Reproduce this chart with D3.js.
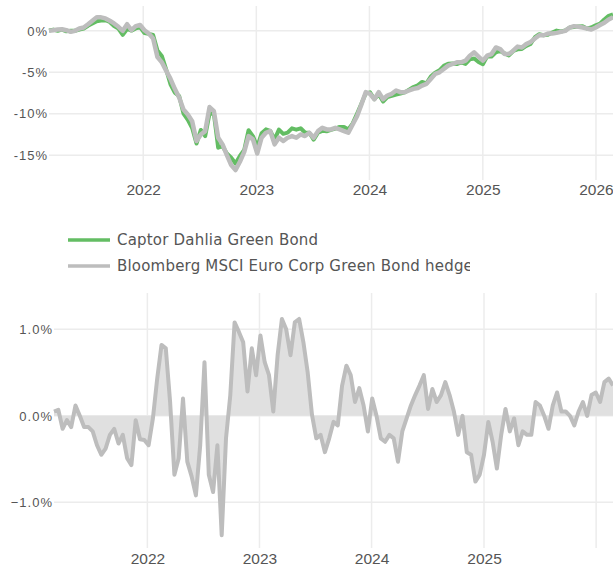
<!DOCTYPE html>
<html>
<head>
<meta charset="utf-8">
<script src="https://cdn.jsdelivr.net/npm/d3@7"></script>
<style>
  body { margin: 0; background: #fff; overflow: hidden; }
  svg { display: block; font-family: "DejaVu Sans", sans-serif; }
</style>
</head>
<body>
<div id="chart"></div>
<script>
// biweekly observations, first one 2021-03-03
var startDate = new Date(2021, 2, 3);
var stepDays = 14;

// cumulative return, %
var fundValues = [
  0.05, 0.15, 0.01, 0.15, -0.05, 0.0, 0.0, 0.15, 0.27, 0.62,
  0.88, 1.17, 1.24, 1.28, 1.07, 0.58, 0.27, -0.49, 0.23, 0.03,
  0.3, 0.42, -0.26, -0.36, -0.5, -2.38, -3.03, -4.65, -6.44, -7.46,
  -7.87, -9.98, -10.73, -11.72, -13.6, -11.96, -12.7, -10.0, -10.0, -14.1,
  -13.92, -14.8, -15.3, -16.0, -15.1, -14.36, -12.0, -12.7, -14.0, -12.36,
  -11.89, -12.06, -13.1, -11.92, -12.43, -12.29, -11.76, -11.92, -11.76, -12.26,
  -12.29, -13.13, -12.29, -12.07, -12.13, -11.96, -11.8, -11.59, -11.59, -11.89,
  -11.16, -10.01, -8.79, -7.57, -7.42, -8.25, -7.64, -8.53, -8.0, -7.84,
  -7.69, -7.57, -7.43, -7.09, -6.78, -6.57, -6.16, -6.33, -5.51, -5.05,
  -4.77, -4.23, -3.97, -3.95, -4.01, -3.8, -4.0, -3.44, -3.34, -3.76,
  -4.03, -3.07, -3.09, -2.6, -2.42, -2.72, -2.97, -2.43, -2.23, -2.18,
  -1.82, -1.57, -0.77, -0.41, -0.53, -0.48, -0.21, 0.03, -0.07, 0.05,
  0.4, 0.46, 0.54, 0.56, 0.28, 0.4, 0.67, 0.86, 1.37, 1.81,
  1.98
];
var benchValues = [
  0.0, 0.08, 0.16, 0.2, 0.08, -0.12, 0.0, 0.28, 0.4, 0.8,
  1.22, 1.63, 1.63, 1.5, 1.22, 0.9, 0.49, 0.0, 0.8, 0.08,
  0.57, 0.7, 0.08, -0.33, -0.93, -3.17, -3.78, -4.8, -5.8, -7.0,
  -8.05, -9.5, -10.1, -10.9, -13.3, -12.5, -12.1, -9.2, -9.7, -12.9,
  -13.7, -15.0, -16.2, -16.8, -15.8, -14.6, -12.7, -13.1, -14.8, -12.9,
  -12.3, -12.1, -13.7, -12.9, -13.3, -12.9, -12.7, -12.9, -12.5, -12.7,
  -12.3, -12.9, -12.1, -11.7, -11.9, -11.9, -11.7, -11.9, -12.1, -12.3,
  -11.3, -10.3, -8.9, -7.4, -7.6, -8.25, -7.4, -8.25, -7.8, -7.6,
  -7.2, -7.4, -7.4, -7.2, -7.0, -6.9, -6.6, -6.4, -5.8, -5.2,
  -5.0, -4.6, -4.2, -4.0, -3.8, -3.8, -3.6, -3.0, -2.6, -3.1,
  -3.6, -3.0, -2.8, -2.0, -2.2, -2.8, -2.8, -2.4, -1.9, -2.0,
  -1.6, -1.35, -0.93, -0.53, -0.53, -0.33, -0.33, -0.24, -0.12, 0.0,
  0.4, 0.57, 0.49, 0.4, 0.28, 0.16, 0.4, 0.7, 0.98, 1.38,
  1.63
];
// relative performance fund vs benchmark, %
var relValues = [
  0.05, 0.07, -0.15, -0.05, -0.13, 0.12, 0.0, -0.13, -0.13, -0.18,
  -0.34, -0.45, -0.38, -0.22, -0.15, -0.32, -0.22, -0.49, -0.57, -0.05,
  -0.27, -0.28, -0.34, -0.03, 0.43, 0.82, 0.78, 0.16, -0.68, -0.49,
  0.2, -0.53, -0.7, -0.92, -0.34, 0.62, -0.68, -0.88, -0.34, -1.38,
  -0.26, 0.24, 1.08, 0.97, 0.85, 0.28, 0.78, 0.47, 0.93, 0.62,
  0.47, 0.05, 0.7, 1.12, 1.0, 0.7, 1.08, 1.12, 0.85, 0.5,
  0.01, -0.26, -0.22, -0.42, -0.26, -0.07, -0.11, 0.35, 0.58, 0.47,
  0.16, 0.32, 0.12, -0.18, 0.2, 0.0, -0.26, -0.3, -0.22, -0.26,
  -0.53, -0.18, -0.03, 0.12, 0.24, 0.35, 0.47, 0.08, 0.31, 0.16,
  0.24, 0.39, 0.24, 0.05, -0.22, 0.0, -0.42, -0.45, -0.76, -0.68,
  -0.45, -0.07, -0.3, -0.61, -0.22, 0.08, -0.18, -0.03, -0.34, -0.18,
  -0.22, -0.22, 0.16, 0.12, 0.0, -0.15, 0.12, 0.27, 0.05, 0.05,
  0.0, -0.11, 0.05, 0.16, 0.0, 0.24, 0.27, 0.16, 0.39, 0.43,
  0.35
];

var seriesNames = ["Captor Dahlia Green Bond", "Bloomberg MSCI Euro Corp Green Bond hedge"];
var seriesColors = ["#63bd63", "#bdbdbd"];
var yearTicks = [2022, 2023, 2024, 2025, 2026];
var relYearLabels = [2022, 2023, 2024, 2025];
var topYTicks = [0, -5, -10, -15];
var bottomYTicks = [1, 0, -1];

var dates = fundValues.map(function(v, i) {
  return d3.timeDay.offset(startDate, i * stepDays);
});
var data = dates.map(function(d, i) {
  return { date: d, fund: fundValues[i], bench: benchValues[i], rel: relValues[i] };
});
var tickDates = yearTicks.map(function(y) { return new Date(y, 0, 1); });

var width = 613, height = 568;
var textColor = "#555555";
var gridColor = "#ececec";

var svg = d3.select("#chart")
  .append("svg")
  .attr("width", width)
  .attr("height", height);

function styleXLabels(sel) {
  sel.attr("fill", textColor)
    .style("font-size", "15.5px");
}
function styleYLabels(sel) {
  sel.attr("fill", textColor)
    .style("font-size", "13px")
    .style("letter-spacing", "1px");
}

// ---------- top panel: cumulative performance ----------
var xTop = d3.scaleTime()
  .domain(d3.extent(dates))
  .range([49, 613]);
var yTop = d3.scaleLinear()
  .domain([-18, 3])
  .range([180, 6]);

var topPanel = svg.append("g").attr("class", "top");

topPanel.append("g")
  .selectAll("line")
  .data(topYTicks)
  .enter()
  .append("line")
  .attr("x1", 49).attr("x2", width)
  .attr("y1", function(d) { return yTop(d); })
  .attr("y2", function(d) { return yTop(d); })
  .attr("stroke", gridColor)
  .attr("stroke-width", 1.5);

topPanel.append("g")
  .selectAll("line")
  .data(tickDates)
  .enter()
  .append("line")
  .attr("x1", function(d) { return xTop(d); })
  .attr("x2", function(d) { return xTop(d); })
  .attr("y1", 6).attr("y2", 180)
  .attr("stroke", gridColor)
  .attr("stroke-width", 1.5);

var xAxisTop = d3.axisBottom(xTop)
  .tickValues(tickDates)
  .tickFormat(d3.timeFormat("%Y"))
  .tickSize(0)
  .tickPadding(4);

topPanel.append("g")
  .attr("transform", "translate(0,180)")
  .call(xAxisTop)
  .call(function(g) { g.select(".domain").remove(); })
  .selectAll("text")
  .call(styleXLabels);

var yAxisTop = d3.axisLeft(yTop)
  .tickValues(topYTicks)
  .tickFormat(function(d) { return d + "%"; })
  .tickSize(0)
  .tickPadding(0);

topPanel.append("g")
  .attr("transform", "translate(48,0)")
  .call(yAxisTop)
  .call(function(g) { g.select(".domain").remove(); })
  .selectAll("text")
  .call(styleYLabels);

var fundLine = d3.line()
  .x(function(d) { return xTop(d.date); })
  .y(function(d) { return yTop(d.fund); });
var benchLine = d3.line()
  .x(function(d) { return xTop(d.date); })
  .y(function(d) { return yTop(d.bench); });

topPanel.append("path")
  .datum(data)
  .attr("d", fundLine)
  .attr("fill", "none")
  .attr("stroke", seriesColors[0])
  .attr("stroke-width", 4)
  .attr("stroke-linejoin", "round");

topPanel.append("path")
  .datum(data)
  .attr("d", benchLine)
  .attr("fill", "none")
  .attr("stroke", seriesColors[1])
  .attr("stroke-width", 4.5)
  .attr("stroke-linejoin", "round");

// ---------- legend ----------
svg.append("defs")
  .append("clipPath")
  .attr("id", "legendclip")
  .append("rect")
  .attr("x", 0).attr("y", 220)
  .attr("width", 470).attr("height", 60);

var legend = svg.append("g")
  .attr("clip-path", "url(#legendclip)")
  .selectAll("g")
  .data(seriesNames)
  .enter()
  .append("g")
  .attr("transform", function(d, i) { return "translate(68," + (240 + i * 26) + ")"; });

legend.append("line")
  .attr("x1", 0).attr("x2", 42)
  .attr("stroke", function(d, i) { return seriesColors[i]; })
  .attr("stroke-width", 3.5);

legend.append("text")
  .attr("x", 49)
  .attr("dy", "0.35em")
  .attr("fill", textColor)
  .style("font-size", "15px")
  .style("letter-spacing", "0.2px")
  .text(function(d) { return d; });

// ---------- bottom panel: relative performance ----------
var xBot = d3.scaleTime()
  .domain(d3.extent(dates))
  .range([54, 613]);
var yBot = d3.scaleLinear()
  .domain([-1.47, 1.42])
  .range([543, 293]);

var botPanel = svg.append("g").attr("class", "bottom");

botPanel.append("g")
  .selectAll("line")
  .data(bottomYTicks)
  .enter()
  .append("line")
  .attr("x1", 54).attr("x2", width)
  .attr("y1", function(d) { return yBot(d); })
  .attr("y2", function(d) { return yBot(d); })
  .attr("stroke", gridColor)
  .attr("stroke-width", 1.5);

botPanel.append("g")
  .selectAll("line")
  .data(tickDates)
  .enter()
  .append("line")
  .attr("x1", function(d) { return xBot(d); })
  .attr("x2", function(d) { return xBot(d); })
  .attr("y1", 293).attr("y2", 548)
  .attr("stroke", gridColor)
  .attr("stroke-width", 1.5);

var xAxisBot = d3.axisBottom(xBot)
  .tickValues(relYearLabels.map(function(y) { return new Date(y, 0, 1); }))
  .tickFormat(d3.timeFormat("%Y"))
  .tickSize(0)
  .tickPadding(4);

botPanel.append("g")
  .attr("transform", "translate(0,549)")
  .call(xAxisBot)
  .call(function(g) { g.select(".domain").remove(); })
  .selectAll("text")
  .call(styleXLabels);

var yAxisBot = d3.axisLeft(yBot)
  .tickValues(bottomYTicks)
  .tickFormat(function(d) { return d3.format(".1f")(d) + "%"; })
  .tickSize(0)
  .tickPadding(0);

botPanel.append("g")
  .attr("transform", "translate(53,0)")
  .call(yAxisBot)
  .call(function(g) { g.select(".domain").remove(); })
  .selectAll("text")
  .call(styleYLabels);

var relArea = d3.area()
  .x(function(d) { return xBot(d.date); })
  .y0(yBot(0))
  .y1(function(d) { return yBot(d.rel); });
var relLine = d3.line()
  .x(function(d) { return xBot(d.date); })
  .y(function(d) { return yBot(d.rel); });

botPanel.append("path")
  .datum(data)
  .attr("d", relArea)
  .attr("fill", "#e0e0e0");

botPanel.append("path")
  .datum(data)
  .attr("d", relLine)
  .attr("fill", "none")
  .attr("stroke", seriesColors[1])
  .attr("stroke-width", 4)
  .attr("stroke-linejoin", "round");
</script>
</body>
</html>
